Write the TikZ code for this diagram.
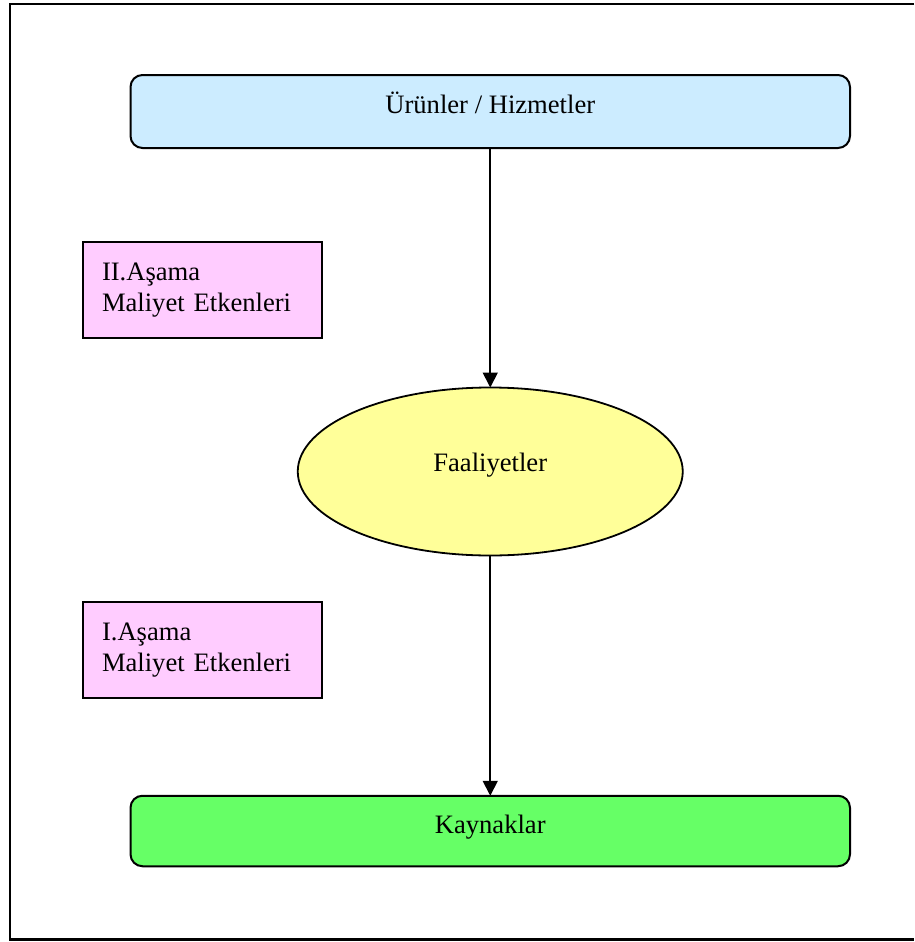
\documentclass[tikz,border=0pt]{standalone}
\usepackage{fontspec}
\setmainfont{Liberation Serif}
\usetikzlibrary{shapes.geometric,arrows.meta}

\definecolor{prodblue}{HTML}{CCECFF}
\definecolor{actyellow}{HTML}{FFFF99}
\definecolor{resgreen}{HTML}{66FF66}
\definecolor{driverpink}{HTML}{FFCCFF}

\tikzset{
  every node/.style={font=\fontsize{26.6}{30.6}\selectfont, outer sep=0pt, inner sep=0pt},
  levelbox/.style={draw=black, line width=2pt, rounded corners=12pt,
    minimum width=719.5pt, text height=10pt, text depth=6pt},
  activity/.style={ellipse, draw=black, line width=1.8pt, fill=actyellow,
    minimum width=385pt, minimum height=168pt, text height=8pt, text depth=8pt},
  driverbox/.style={draw=black, line width=1.8pt, fill=driverpink,
    minimum width=239pt, minimum height=96.6pt, text width=200.4pt, align=left},
  flow/.style={draw=black, line width=1.8pt, -{Triangle[length=15pt,width=15pt]}},
  frameline/.style={draw=black, line width=2.2pt}
}

\begin{document}
\begin{tikzpicture}[x=1pt, y=-1pt]
  \useasboundingbox (0,0) rectangle (914,942);

  % outer frame, open on the right
  \draw[frameline] (914,3.7) -- (10.3,3.7) -- (10.3,939.5) -- (914,939.5);

  % levels of the model
  \node[levelbox, fill=prodblue, minimum height=73pt] (products) at (490.25,111.5) {Ürünler / Hizmetler};
  \node[activity] (activities) at (490.25,471.5) {Faaliyetler};
  \node[levelbox, fill=resgreen, minimum height=70.5pt] (resources) at (490.25,831) {Kaynaklar};

  % cost driver stages
  \node[driverbox] (stage2) at (202.2,290) {II.Aşama\\Maliyet Etkenleri};
  \node[driverbox] (stage1) at (202.2,650) {I.Aşama\\Maliyet Etkenleri};

  % flow between levels
  \draw[flow] (products.south) -- (activities.north);
  \draw[flow] (activities.south) -- (resources.north);
\end{tikzpicture}
\end{document}
